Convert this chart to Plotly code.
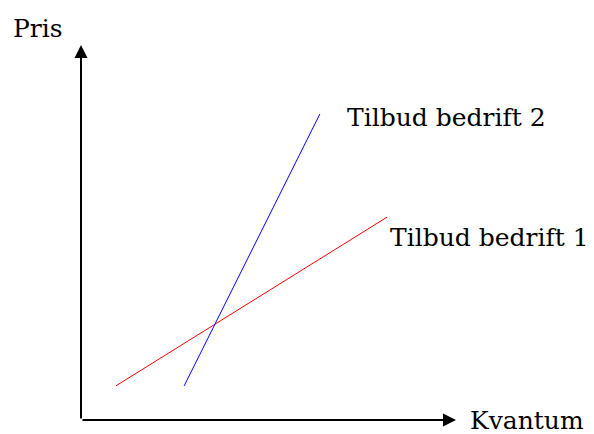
import plotly.graph_objects as go

# Data (supply curves), in axis units
red_x = [0.93, 8.16]
red_y = [0.91, 5.41]
blue_x = [2.75, 6.37]
blue_y = [0.91, 8.16]
series_names = ["Tilbud bedrift 1", "Tilbud bedrift 2"]
axis_labels = ["Kvantum", "Pris"]
axis_max = [10.0, 10.0]

FONT = "DejaVu Serif"
FS = 25

fig = go.Figure()
fig.add_trace(go.Scatter(x=red_x, y=red_y, mode="lines",
                         line=dict(color="red", width=1), showlegend=False, hoverinfo="skip"))
fig.add_trace(go.Scatter(x=blue_x, y=blue_y, mode="lines",
                         line=dict(color="blue", width=1), showlegend=False, hoverinfo="skip"))

ann = []
# axes arrows
ann.append(dict(x=axis_max[0], y=0, ax=0, ay=0, xref="x", yref="y", axref="x", ayref="y",
                showarrow=True, arrowhead=2, arrowsize=1.3, arrowwidth=2, arrowcolor="black", text=""))
ann.append(dict(x=0, y=axis_max[1], ax=0, ay=0, xref="x", yref="y", axref="x", ayref="y",
                showarrow=True, arrowhead=2, arrowsize=1.3, arrowwidth=2, arrowcolor="black", text=""))
# axis labels
ann.append(dict(x=axis_max[0] + 0.32, y=0, text=axis_labels[0], showarrow=False,
                xanchor="left", yanchor="middle", font=dict(family=FONT, size=FS, color="black")))
ann.append(dict(x=-1.15, y=axis_max[1] + 0.45, text=axis_labels[1], showarrow=False,
                xanchor="center", yanchor="middle", font=dict(family=FONT, size=FS, color="black")))
# series labels
ann.append(dict(x=red_x[1] + 0.03, y=red_y[1] - 0.53, text=series_names[0], showarrow=False,
                xanchor="left", yanchor="middle", font=dict(family=FONT, size=FS, color="black")))
ann.append(dict(x=blue_x[1] + 0.67, y=blue_y[1] - 0.08, text=series_names[1], showarrow=False,
                xanchor="left", yanchor="middle", font=dict(family=FONT, size=FS, color="black")))

px = 37.5
ox, oy = 73, 412  # origin position inside the figure (page body has 8px margin)
fig.update_layout(
    width=594, height=434,
    margin=dict(l=0, r=0, t=0, b=0),
    paper_bgcolor="white", plot_bgcolor="white",
    xaxis=dict(range=[-ox / px, (594 - ox) / px], visible=False, fixedrange=True),
    yaxis=dict(range=[-(434 - oy) / px, oy / px], visible=False, fixedrange=True),
    annotations=ann,
)
fig.write_html("out.html")
